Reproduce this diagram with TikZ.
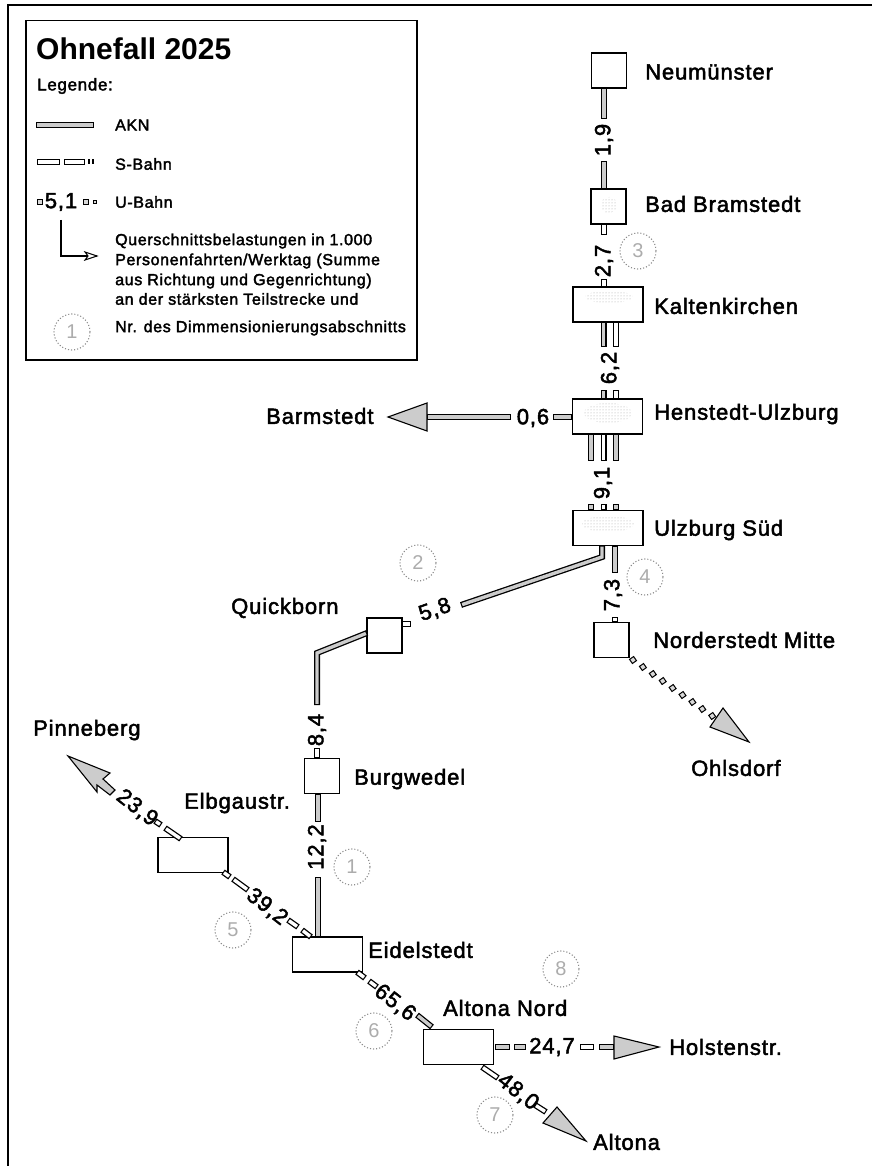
\documentclass[tikz,border=0pt]{standalone}
\usepackage{fontspec}
\usetikzlibrary{patterns}
\setmainfont{Liberation Sans}
\newfontfamily\lab[FakeBold=2.2,LetterSpace=4]{Liberation Sans}
\newfontfamily\leg[FakeBold=2.2,LetterSpace=4]{Liberation Sans}
\newfontfamily\ttl{Liberation Sans Bold}
\newcommand\trk[2][gray!40]{\draw[trackout] #2; \draw[trackin,draw=#1] #2;}
\newcommand\speck[4]{\fill[pattern=dots,pattern color=gray!70] (#1,#2) ellipse [x radius=#3,y radius=#4];}
\tikzset{
  x=1pt,y=-1pt,
  trackout/.style={line width=6pt,draw=black,line cap=butt,line join=miter},
  trackin/.style={line width=3.4pt,shorten >=1.2pt,shorten <=1.2pt,line cap=butt,line join=miter},
  stn/.style={draw=black,line width=1.4pt,fill=white,minimum width=35pt,minimum height=35pt,inner sep=0pt,outer sep=0pt},
  wide/.style={stn,minimum width=70pt},
  name label/.style={font=\lab\fontsize{22}{24}\selectfont,inner sep=0pt,anchor=west},
  val/.style={font=\lab\fontsize{22}{24}\selectfont,inner sep=0pt},
  legtext/.style={font=\leg\fontsize{16}{20}\selectfont,inner sep=0pt,anchor=west,align=left},
  nr/.style={circle,draw=gray!90,dotted,line width=1.1pt,minimum size=36pt,inner sep=0pt,font=\fontsize{20}{22}\selectfont,text=gray!65},
  hd/.style={draw=black,line width=1.1pt,fill=gray!40,line join=miter},
  umark/.style={draw=black,line width=1pt,fill=gray!30,minimum size=5pt,inner sep=0pt}
}
\begin{document}
\begin{tikzpicture}
\useasboundingbox (0,0) rectangle (872,1166);
% outer frame
\coordinate (fa) at (8,1166); \coordinate (fb) at (8,5); \coordinate (fc) at (872,5);
\draw[line width=1.5pt] (fa) -- (fb) -- (fc);
% legend
\node[draw=black,line width=1.5pt,minimum width=391pt,minimum height=339pt,inner sep=0pt,anchor=north west] (legbox) at (25,20) {};
\node[font=\ttl\fontsize{30}{32}\selectfont,inner sep=0pt,anchor=west] (title) at (36,49) {Ohnefall 2025};
\node[legtext,font=\leg\fontsize{17}{20}\selectfont] (legende) at (37,86) {Legende:};
\coordinate (a1) at (36,125); \coordinate (a2) at (94,125);
\trk{(a1) -- (a2)}
\node[legtext] (takn) at (115,125) {AKN};
\coordinate (s1) at (37,162); \coordinate (s2) at (60,162); \coordinate (s3) at (64,162); \coordinate (s4) at (85,162); \coordinate (s5) at (88,162); \coordinate (s6) at (94,162);
\trk[white]{(s1) -- (s2)} \trk[white]{(s3) -- (s4)}
\draw[line width=5pt,black] (s5) -- ++(2,0) (s6) -- ++(-2,0);
\node[legtext] (ts) at (115,164) {S-Bahn};
\node[val] (t51) at (61,202) {5,1};
\node[umark] (u1) at (40,202) {}; \node[umark] (u2) at (86,202) {}; \node[umark,minimum size=3pt] (u3) at (95,202) {};
\node[legtext] (tu) at (115,202) {U-Bahn};
\coordinate (e1) at (61,220); \coordinate (e2) at (61,256); \coordinate (e3) at (97,256);
\draw[line width=1.3pt] (e1) -- (e2) -- (e3);
\draw[line width=1pt,fill=white] (85,252) -- (97,256) -- (85,260) -- (88,256) -- cycle;
\node[legtext] (tq1) at (115,241) {Querschnittsbelastungen in 1.000};
\node[legtext] (tq2) at (115,261) {Personenfahrten/Werktag (Summe};
\node[legtext] (tq3) at (115,281) {aus Richtung und Gegenrichtung)};
\node[legtext] (tq4) at (115,299) {an der stärksten Teilstrecke und};
\node[legtext] (tq5) at (115,328) {Nr. des Dimmensionierungsabschnitts};
\node[nr] (n0) at (72,332) {1};
% stations
\node[stn] (neu) at (609,70.5) {};
\node[stn] (bad) at (608.5,206.5) {};
\node[wide] (kal) at (608,304.5) {};
\node[wide] (hen) at (607.5,416.5) {};
\node[wide] (ulz) at (608,528) {};
\node[stn] (nor) at (611.5,640) {};
\node[stn] (qui) at (384.5,635.5) {};
\node[stn] (bur) at (322,776) {};
\node[wide] (eid) at (327.5,954.5) {};
\node[wide] (elb) at (193,855) {};
\node[wide] (alt) at (458.5,1047) {};
\speck{609}{205}{8}{8}
\speck{609}{297}{24}{6}
\speck{608}{413}{24}{10}
\speck{608}{524}{26}{8}
% names
\node[name label] (nneu) at (645,72) {Neumünster};
\node[name label] (nbad) at (645,204) {Bad Bramstedt};
\node[name label] (nkal) at (654,306) {Kaltenkirchen};
\node[name label] (nhen) at (654,414) {Henstedt-Ulzburg};
\node[name label] (nulz) at (654,530) {Ulzburg Süd};
\node[name label] (nnor) at (653,640) {Norderstedt Mitte};
\node[name label] (nqui) at (231,608) {Quickborn};
\node[name label] (nbur) at (354,779) {Burgwedel};
\node[name label] (nelb) at (184,803) {Elbgaustr.};
\node[name label] (neid) at (368,950) {Eidelstedt};
\node[name label] (nalt) at (443,1008) {Altona Nord};
\node[name label] (nhol) at (669,1047) {Holstenstr.};
\node[name label] (nalo) at (593,1142) {Altona};
\node[name label] (nbar) at (266,416) {Barmstedt};
\node[name label] (nohl) at (691,768) {Ohlsdorf};
\node[name label] (npin) at (33,730) {Pinneberg};
% section numbers
\node[nr] (n3) at (638,251) {3};
\node[nr] (n2) at (418,563) {2};
\node[nr] (n4) at (645,577) {4};
\node[nr] (n1) at (352,867) {1};
\node[nr] (n5) at (233,930) {5};
\node[nr] (n6) at (374,1031) {6};
\node[nr] (n7) at (495,1115) {7};
\node[nr] (n8) at (561,969) {8};
% values
\node[val,rotate=90] (v19) at (604,140) {1,9};
\node[val,rotate=90] (v27) at (604,261) {2,7};
\node[val,rotate=90] (v62) at (610,368) {6,2};
\node[val,rotate=90] (v91) at (603,483) {9,1};
\node[val,rotate=90] (v73) at (613,595) {7,3};
\node[val,rotate=19] (v58) at (435,610) {5,8};
\node[val,rotate=90] (v84) at (317,730) {8,4};
\node[val,rotate=90] (v122) at (317,847) {12,2};
\node[val] (v06) at (533,418) {0,6};
\node[val,rotate=-38] (v239) at (137,808) {23,9};
\node[val,rotate=-38] (v392) at (267,907) {39,2};
\node[val,rotate=-38] (v656) at (395,1003) {65,6};
\node[val,rotate=-38] (v480) at (518,1092) {48,0};
\node[val] (v247) at (552,1047) {24,7};
% free ends
\coordinate (c1) at (604,119); \coordinate (c2) at (604,161);
\coordinate (c3) at (604,235); \coordinate (c4) at (604,279);
\coordinate (c5) at (603.5,347); \coordinate (c6) at (616,347); \coordinate (c7) at (603.5,390); \coordinate (c8) at (616,390);
\coordinate (c9) at (591,461); \coordinate (c10) at (603.5,461); \coordinate (c11) at (616,461);
\coordinate (c12) at (591,504); \coordinate (c13) at (603.5,504); \coordinate (c14) at (616,504);
\coordinate (c15) at (553,417);
\coordinate (c16) at (511,417);
\coordinate (bh) at (427,417);
\trk{(neu.south -| c1) -- (c1)}
\trk{(c2) -- (bad.north -| c2)}
\trk[white]{(bad.south -| c3) -- (c3)}
\trk[white]{(c4) -- (kal.north -| c4)}
\trk{(kal.south -| c5) -- (c5)}
\trk[white]{(kal.south -| c6) -- (c6)}
\trk{(c7) -- (hen.north -| c7)}
\trk[white]{(c8) -- (hen.north -| c8)}
\trk{(hen.south -| c9) -- (c9)}
\trk[white]{(hen.south -| c10) -- (c10)}
\trk{(hen.south -| c11) -- (c11)}
\trk{(c12) -- (ulz.north -| c12)}
\trk[white]{(c13) -- (ulz.north -| c13)}
\trk{(c14) -- (ulz.north -| c14)}
\trk{(c15) -- (hen.west |- c15)}
\trk{(c16) -- (bh)}
% Barmstedt arrow
\coordinate (bt) at (388,417);
\draw[hd] (bt) -- (427,403) -- (bh) -- (427,431) -- cycle;
% Ulzburg - Quickborn
\coordinate (q1) at (602,545); \coordinate (q2) at (602,557); \coordinate (q3) at (461,605);
\coordinate (q4) at (411,624); \coordinate (q5) at (367,633); \coordinate (q6) at (317,653); \coordinate (q7) at (317,705);
\trk{(ulz.south -| q1) -- (q2) -- (q3)}
\trk[white]{(qui.east |- q4) -- (q4)}
\trk{(qui.west |- q5) -- (q6) -- (q7)}
\coordinate (q8) at (317,748);
\trk[white]{(q8) -- (bur.north -| q8)}
\coordinate (q9) at (318,822); \coordinate (q10) at (318,877);
\trk{(bur.south -| q9) -- (q9)}
\trk{(q10) -- (eid.north -| q10)}
% Ulzburg - Norderstedt
\coordinate (m1) at (615,573); \coordinate (m2) at (615,617);
\trk{(ulz.south -| m1) -- (m1)}
\trk[white]{(m2) -- (nor.north -| m2)}
% U-Bahn Ohlsdorf
\foreach \i in {0,...,8} {
  \node[umark,rotate=35] (om\i) at ({633+\i*9.9},{660+\i*7}) {};
}
\draw[hd] (749,742) -- (723,708) -- (710,727) -- cycle;
% Pinneberg
\draw[hd] (68,756) -- (110,773) -- (103,779) -- (115,790) -- (110,795) -- (97,785) -- (97,792) -- cycle;
\coordinate (p1) at (155,821); \coordinate (p2) at (161,825); \coordinate (p3) at (165,828); \coordinate (p4) at (181,839);
\trk[white]{(p1) -- (p2)} \trk[white]{(p3) -- (p4)}
% Elbgaustr - Eidelstedt
\coordinate (p5) at (223,872); \coordinate (p6) at (230,877); \coordinate (p7) at (233,879); \coordinate (p8) at (248,890);
\coordinate (p9) at (288,920); \coordinate (p10) at (298,927); \coordinate (p11) at (302,930); \coordinate (p12) at (311,937);
\trk[white]{(p5) -- (p6)} \trk[white]{(p7) -- (p8)} \trk[white]{(p9) -- (p10)} \trk[white]{(p11) -- (p12)}
% Eidelstedt - Altona Nord
\coordinate (p13) at (357,972); \coordinate (p14) at (365,978); \coordinate (p15) at (369,981); \coordinate (p16) at (377,987);
\coordinate (p17) at (417,1015); \coordinate (p18) at (432,1027);
\trk[white]{(p13) -- (p14)} \trk[white]{(p15) -- (p16)} \trk{(p17) -- (p18)}
% Holstenstr
\coordinate (h1) at (495,1047); \coordinate (h2) at (510,1047); \coordinate (h3) at (514,1047); \coordinate (h4) at (526,1047);
\coordinate (h5) at (580,1047); \coordinate (h6) at (594,1047); \coordinate (h7) at (599,1047); \coordinate (h8) at (614,1047);
\trk{(h1) -- (h2)} \trk{(h3) -- (h4)} \trk[white]{(h5) -- (h6)} \trk{(h7) -- (h8)}
\draw[hd] (659,1047) -- (614,1036) -- (614,1059) -- cycle;
% Altona
\coordinate (h9) at (482,1067); \coordinate (h10) at (498,1078); \coordinate (h11) at (535,1105); \coordinate (h12) at (546,1112);
\trk[white]{(h9) -- (h10)} \trk[white]{(h11) -- (h12)}
\draw[hd] (586,1141) -- (557,1107) -- (543,1123) -- cycle;
\end{tikzpicture}
\end{document}
